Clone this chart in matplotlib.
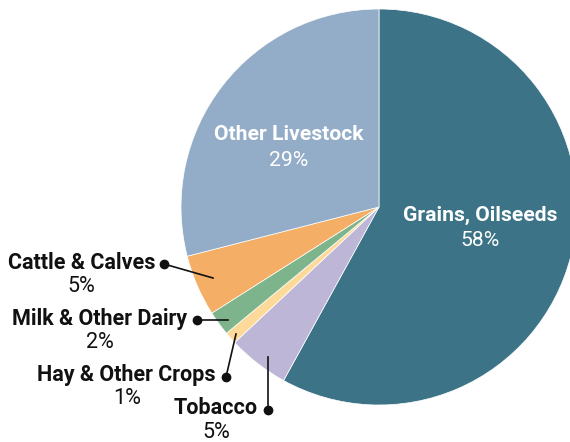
import matplotlib
matplotlib.use("Agg")
import matplotlib.pyplot as plt

# farm receipts by commodity group, percent of total
labels = ["Grains, Oilseeds", "Tobacco", "Hay & Other Crops",
          "Milk & Other Dairy", "Cattle & Calves", "Other Livestock"]
shares = [58, 5, 1, 2, 5, 29]
colors = ["#3c7386", "#bdb6d6", "#fdd99a", "#7eb48c", "#f4ae65", "#93adc8"]

W, H = 570, 442
fig = plt.figure(figsize=(W / 100, H / 100), dpi=100)
ax = fig.add_axes([0, 0, 1, 1])
ax.set_aspect("equal")

fam = ["Roboto", "DejaVu Sans"]
cx, cy, r = 379, 207, 198

# y axis runs downward, so counterclock=True turns clockwise on screen
wedges, _ = ax.pie(shares, colors=colors, startangle=-90, counterclock=True,
                   radius=r, center=(cx, cy), frame=True,
                   wedgeprops=dict(edgecolor="white", linewidth=0.5))
ax.set_xlim(0, W)
ax.set_ylim(H, 0)
ax.axis("off")

# labels inside the two big slices
ax.text(289, 134, "Other Livestock", color="white", fontsize=15.2,
        fontweight="bold", family=fam, ha="center", va="center")
ax.text(289, 160, "29%", color="white", fontsize=15.2,
        family=fam, ha="center", va="center")
ax.text(480, 215, "Grains, Oilseeds", color="white", fontsize=15.2,
        fontweight="bold", family=fam, ha="center", va="center")
ax.text(480, 240, "58%", color="white", fontsize=15.2,
        family=fam, ha="center", va="center")

# callouts for the small slices: (name, pct, text right edge, name y, dot, line end)
callouts = [
    ("Cattle & Calves", "5%", 155, 263, (164, 264), (213, 278)),
    ("Milk & Other Dairy", "2%", 187, 319, (197, 320), (228, 320)),
    ("Hay & Other Crops", "1%", 216, 375, (226, 377), (236, 334)),
    ("Tobacco", "5%", 258, 408, (268, 410), (268, 357)),
]
fig.canvas.draw()
rend = fig.canvas.get_renderer()
inv = ax.transData.inverted()
for name, pct, xr, y, dot, end in callouts:
    t = ax.text(xr, y, name, color="#111111", fontsize=15.5, fontweight="bold",
                family=fam, ha="right", va="center")
    bb = t.get_window_extent(rend)
    x0 = inv.transform((bb.x0, bb.y0))[0]
    ax.text((x0 + xr) / 2, y + 24, pct, color="#111111", fontsize=15.5,
            family=fam, ha="center", va="center")
    ax.plot([dot[0], end[0]], [dot[1], end[1]], color="#111111", lw=1.2)
    ax.plot(dot[0], dot[1], "o", color="#111111", ms=6)

fig.savefig("out.png", dpi=100)
